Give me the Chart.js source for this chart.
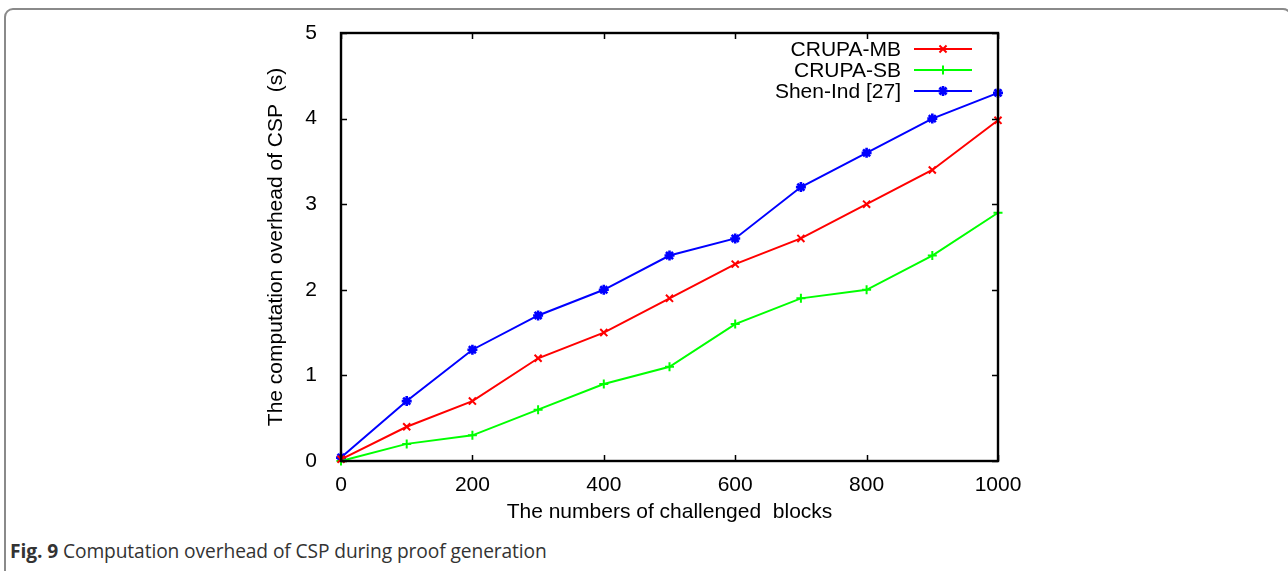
<!DOCTYPE html>
<html>
<head>
<meta charset="utf-8">
<script src="https://cdn.jsdelivr.net/npm/chart.js@4.4.1/dist/chart.umd.min.js"></script>
<style>
  html, body { margin: 0; padding: 0; background: #fff; overflow: hidden; }
  body { width: 1288px; height: 571px; position: relative; }
  #frame {
    position: absolute; left: 4px; top: 8px; width: 1288px; height: 620px;
    border: 2px solid #8a8a8a; border-radius: 9px; box-sizing: border-box;
  }
  #wrap { position: absolute; left: 0; top: 0; width: 1288px; height: 528px; }
  #caption {
    position: absolute; left: 10px; top: 537px;
    font-family: "Open Sans", sans-serif; font-size: 19.2px; color: #333;
    white-space: nowrap; letter-spacing: -0.1px;
  }
  #caption b { font-weight: 700; }
</style>
</head>
<body>
<div id="frame"></div>
<div id="wrap"><canvas id="chart" width="1288" height="528"></canvas></div>
<div id="caption"><b>Fig. 9</b> Computation overhead of CSP during proof generation</div>
<script>
// Number of challenged blocks
const blocks = [0, 100, 200, 300, 400, 500, 600, 700, 800, 900, 1000];
// Computation time of the CSP in seconds
const crupaMB = [0.02, 0.4, 0.7, 1.2, 1.5, 1.9, 2.3, 2.6, 3.0, 3.4, 3.98];
const crupaSB = [0.0, 0.2, 0.3, 0.6, 0.9, 1.1, 1.6, 1.9, 2.0, 2.4, 2.9];
const shenInd = [0.04, 0.7, 1.3, 1.7, 2.0, 2.4, 2.6, 3.2, 3.6, 4.0, 4.3];

const seriesNames = ['CRUPA-MB', 'CRUPA-SB', 'Shen-Ind [27]'];
const xTickValues = [0, 200, 400, 600, 800, 1000];
const yTickValues = [0, 1, 2, 3, 4, 5];

const FONT = 'Liberation Sans, Arial, Helvetica, sans-serif';
const FS = 21;

const toPoints = vals => blocks.map((b, i) => ({ x: b, y: vals[i] }));

// gnuplot-style frame: box around the plot area with inward ticks on all sides
const framePlugin = {
  id: 'frameTicks',
  afterDatasetsDraw(chart) {
    const { ctx, chartArea: a, scales } = chart;
    const len = 6;
    ctx.save();
    ctx.strokeStyle = '#000';
    ctx.lineWidth = 1.5;
    ctx.beginPath();
    xTickValues.forEach(v => {
      const px = Math.round(scales.x.getPixelForValue(v)) + 0.5;
      ctx.moveTo(px, a.bottom); ctx.lineTo(px, a.bottom - len);
      ctx.moveTo(px, a.top); ctx.lineTo(px, a.top + len);
    });
    yTickValues.forEach(v => {
      const py = Math.round(scales.y.getPixelForValue(v)) + 0.5;
      ctx.moveTo(a.left, py); ctx.lineTo(a.left + len, py);
      ctx.moveTo(a.right, py); ctx.lineTo(a.right - len, py);
    });
    ctx.stroke();
    ctx.lineWidth = 2.4;
    ctx.strokeRect(a.left, a.top, a.right - a.left, a.bottom - a.top);
    ctx.restore();
  }
};

// key in the upper right corner: label right-aligned, then line sample with marker
const keyPlugin = {
  id: 'keyBox',
  afterDatasetsDraw(chart) {
    const { ctx } = chart;
    const textRight = 901, lineL = 914, lineR = 972, top = 49, step = 21;
    ctx.save();
    ctx.font = FS + 'px ' + FONT;
    ctx.textAlign = 'right';
    ctx.textBaseline = 'middle';
    chart.data.datasets.forEach((ds, i) => {
      const y = top + i * step;
      ctx.fillStyle = '#000';
      ctx.fillText(ds.label, textRight, y + 1);
      ctx.strokeStyle = ds.borderColor;
      ctx.lineWidth = 2;
      ctx.beginPath();
      ctx.moveTo(lineL, y); ctx.lineTo(lineR, y);
      ctx.stroke();
      ctx.fillStyle = ds.borderColor;
      ctx.lineWidth = ds.pointBorderWidth;
      Chart.helpers.drawPoint(ctx, {
        pointStyle: ds.pointStyle, radius: ds.pointRadius,
        borderWidth: ds.pointBorderWidth, rotation: 0
      }, (lineL + lineR) / 2, y);
    });
    ctx.restore();
  }
};

const makeSet = (label, vals, color, style, r, bw) => ({
  label, data: toPoints(vals),
  borderColor: color, backgroundColor: color,
  pointBorderColor: color, pointBackgroundColor: color,
  borderWidth: 2, pointStyle: style, pointRadius: r, pointBorderWidth: bw,
  pointHoverRadius: r, tension: 0, clip: false
});

new Chart(document.getElementById('chart'), {
  type: 'line',
  data: {
    datasets: [
      makeSet(seriesNames[0], crupaMB, '#ff0000', 'crossRot', 5, 2),
      makeSet(seriesNames[1], crupaSB, '#00ff00', 'cross', 4.5, 2),
      makeSet(seriesNames[2], shenInd, '#0000ff', 'star', 5, 2.6)
    ]
  },
  options: {
    responsive: false,
    animation: false,
    events: [],
    layout: { padding: { left: 261, right: 290, top: 33, bottom: 0 } },
    plugins: { legend: { display: false }, tooltip: { enabled: false } },
    scales: {
      x: {
        type: 'linear', min: 0, max: 1000,
        afterBuildTicks: s => { s.ticks = xTickValues.map(v => ({ value: v })); },
        afterFit: s => { s.height = 528 - 461; },
        grid: { display: false },
        border: { display: false },
        ticks: { color: '#000', padding: 4, maxRotation: 0, callback: v => String(v),
                 font: { family: FONT, size: FS } },
        title: { display: true, text: 'The numbers of challenged  blocks', color: '#000',
                 padding: { top: 0, bottom: 3 }, font: { family: FONT, size: FS } }
      },
      y: {
        type: 'linear', min: 0, max: 5,
        afterBuildTicks: s => { s.ticks = yTickValues.map(v => ({ value: v })); },
        afterFit: s => { s.width = 341 - 261; },
        grid: { display: false },
        border: { display: false },
        ticks: { color: '#000', padding: 16, callback: v => String(v),
                 font: { family: FONT, size: FS } },
        title: { display: true, text: 'The computation overhead of CSP  (s)', color: '#000',
                 padding: { top: 3, bottom: 0 }, font: { family: FONT, size: FS } }
      }
    }
  },
  plugins: [framePlugin, keyPlugin]
});
</script>
</body>
</html>
